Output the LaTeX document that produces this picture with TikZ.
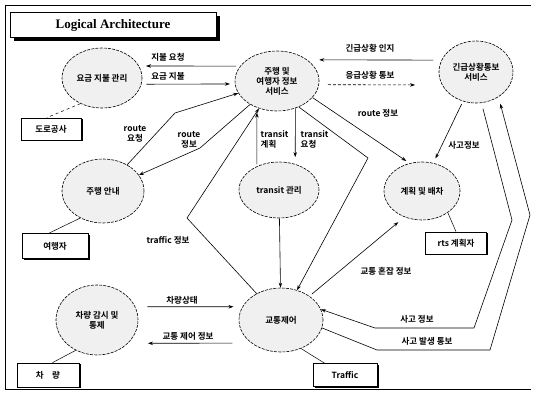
\documentclass[tikz,border=0pt]{standalone}
\usepackage{fontspec}
\setmainfont{Liberation Serif}
\newfontfamily\kr{Noto Sans CJK KR}[BoldFont={Noto Sans CJK KR Bold}]
\usetikzlibrary{shapes.geometric,arrows.meta,shadows}
\begin{document}
\begin{tikzpicture}[x=1pt,y=-1pt,
  font=\kr\bfseries\fontsize{8.5}{10}\selectfont,
  ell/.style={ellipse, draw, line width=0.6pt, dash pattern=on 3pt off 1.2pt, fill=gray!12, inner sep=0pt, inner xsep=-4pt, align=center},
  box/.style={rectangle, draw, line width=0.7pt, fill=white, drop shadow={shadow xshift=1.5pt,shadow yshift=-1.5pt,fill=black,opacity=1}},
  tbox/.style={rectangle, draw, line width=0.7pt, fill=white, drop shadow={shadow xshift=4pt,shadow yshift=-4pt,fill=black,opacity=1}},
  arr/.style={-{Stealth[length=5pt,width=3.5pt]}, line width=0.6pt},
  lnk/.style={line width=0.5pt},
  lbl/.style={inner sep=0.5pt, align=center},
]
\useasboundingbox (0,0) rectangle (536,395);
\draw[line width=0.6pt] (531,5) -- (5,5) -- (5,389) -- (531,389);

\node[tbox, minimum width=206pt, minimum height=25pt, font=\rmfamily\bfseries\fontsize{13}{15}\selectfont] (title) at (113,25) {Logical Architecture};

% ellipses
\node[ell, minimum width=80pt, minimum height=60pt] (yo) at (102,78) {요금 지불 관리};
\node[ell, minimum width=84pt, minimum height=60pt] (ju) at (277,81) {주행 및\\여행자 정보\\서비스};
\node[ell, minimum width=74pt, minimum height=62pt] (gi) at (476,72) {긴급상황통보\\서비스};
\node[ell, minimum width=82pt, minimum height=64pt] (an) at (103,191) {주행 안내};
\node[ell, minimum width=80pt, minimum height=56pt] (tr) at (279,190) {transit 관리};
\node[ell, minimum width=76pt, minimum height=58pt] (pl) at (422,191) {계획 및 배차};
\node[ell, minimum width=84pt, minimum height=64pt] (ct) at (281,320) {교통제어};
\node[ell, minimum width=82pt, minimum height=70pt] (ve) at (97,320) {차량 감시 및\\통제};

% boxes
\node[box, minimum width=60pt, minimum height=22pt] (b1) at (51,129) {도로공사};
\node[box, minimum width=66pt, minimum height=25pt] (b2) at (55,246) {여행자};
\node[box, minimum width=61pt, minimum height=22pt] (b3) at (456,243) {rts 계획자};
\node[box, minimum width=62pt, minimum height=24pt] (b4) at (48,375) {차\quad 량};
\node[box, minimum width=64pt, minimum height=23pt] (b5) at (345,375) {Traffic};

% bend points
\coordinate (r1) at (175,113);
\coordinate (r2) at (200,148);
\coordinate (t1) at (187,218);
\coordinate (a1) at (368,158);
\coordinate (s1) at (512,220);
\coordinate (s2) at (474,328);
\coordinate (s3) at (375,328);
\coordinate (p1) at (377,350);
\coordinate (p2) at (490,350);
\coordinate (p3) at (530,215);

% connectors
\draw[arr, shorten <=4pt, shorten >=7pt] (ju.158) -- (yo.18);
\node[lbl] at (168,57) {지불 요청};
\draw[arr, shorten <=5pt, shorten >=5pt] (yo.-9) -- (ju.184);
\node[lbl] at (168,76) {요금 지불};

\draw[arr, shorten <=8pt, shorten >=12pt] (gi.161) -- (ju.35);
\node[lbl] at (370,48) {긴급상황 인지};
\draw[arr, densely dashed, shorten <=9pt, shorten >=27pt] (ju.-5) -- (gi.-159);
\node[lbl] at (370,75) {응급상황 통보};

\draw[arr] (an) -- (r1) -- (ju);
\node[lbl] at (135,134) {route\\요청};
\draw[arr] (ju) -- (r2) -- (an);
\node[lbl] at (189,140) {route\\정보};
\draw[arr] (ct) -- (t1) -- (ju);
\node[lbl] at (168,240) {traffic 정보};

\draw[arr] (ju.-50) -- (a1) -- (ct);
\draw[arr, shorten >=4pt] (ju.-25) -- (pl.114);
\node[lbl] at (378,113) {route 정보};

\draw[arr, shorten <=2pt, shorten >=5pt] (tr.133) -- (ju.-127);
\node[lbl, anchor=west, align=left] at (260,139) {transit\\계획};
\draw[arr, shorten >=7pt] (ju.-56) -- (tr.58);
\node[lbl, anchor=west, align=left] at (300,139) {transit\\요청};

\draw[arr] (tr) -- (ct);

\draw[arr, shorten <=3pt, shorten >=5pt] (gi.-114) -- (pl.68);
\node[lbl] at (464,145) {사고정보};

\draw[arr, shorten <=6pt] (gi.-80) -- (s1) -- (s2) -- (s3) -- (ct.15);
\node[lbl] at (417,319) {사고 정보};
\draw[arr, shorten >=7pt] (ct.-11) -- (p1) -- (p2) -- (p3) -- (gi.-48);
\node[lbl] at (427,341) {사고 발생 통보};

\draw[arr, shorten <=3pt, shorten >=8pt] (ct.40) -- (pl.-124);
\node[lbl] at (386,271) {교통 혼잡 정보};

\draw[arr, shorten <=12pt, shorten >=9pt] (ve.19) -- (ct.161);
\node[lbl] at (182,300) {차량상태};
\draw[arr, shorten <=19pt, shorten >=20pt] (ct.218) -- (ve.-37);
\node[lbl] at (188,336) {교통 제어 정보};

% box links
\draw[lnk, dashed] (yo.230) -- (b1.110);
\draw[lnk] (an.230) -- (b2.115);
\draw[lnk] (pl.-40) -- (b3.north);
\draw[lnk] (ve.-125) -- (b4.70);
\draw[lnk] (ct.-55) -- (b5.150);
\end{tikzpicture}
\end{document}
